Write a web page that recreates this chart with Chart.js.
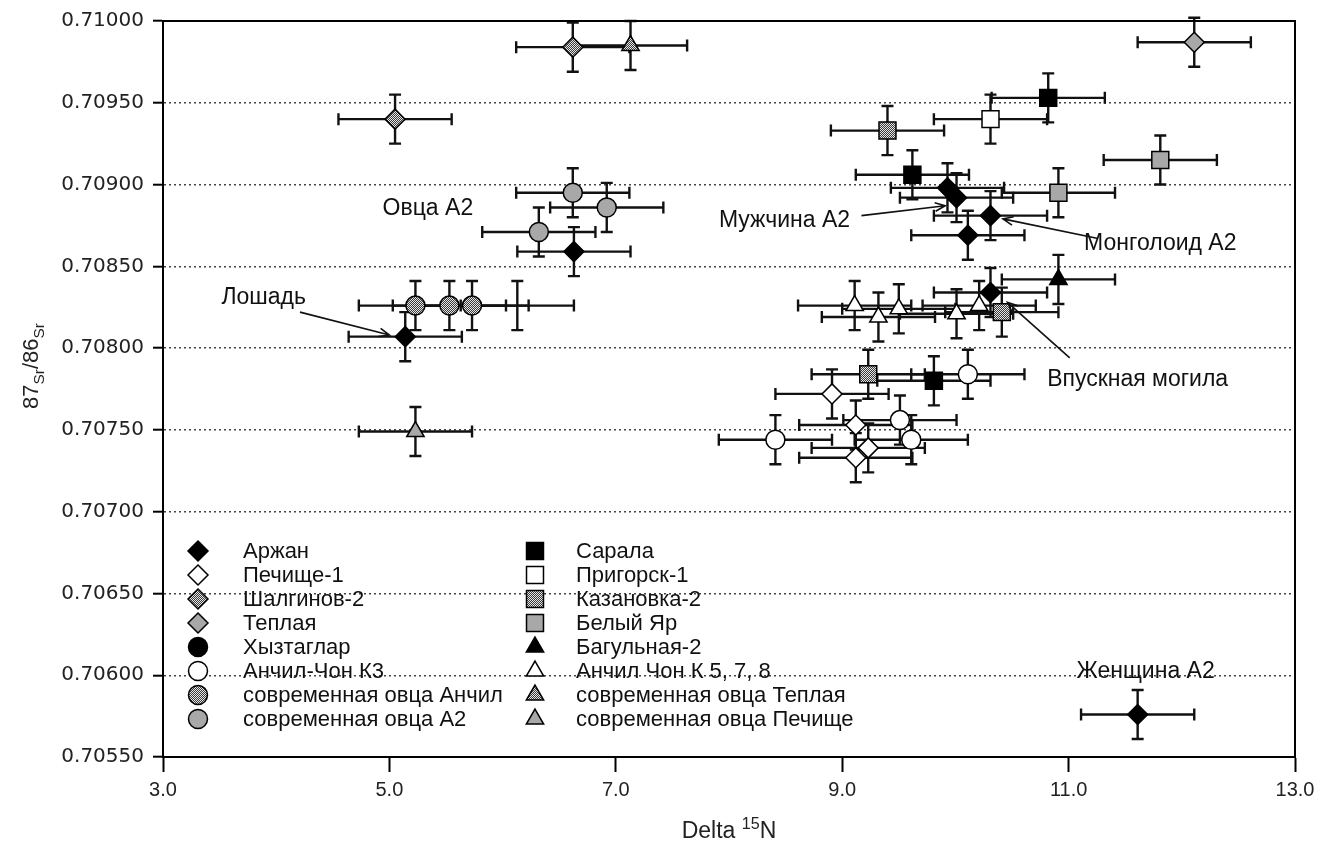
<!DOCTYPE html>
<html>
<head>
<meta charset="utf-8">
<script src="https://cdn.jsdelivr.net/npm/chart.js@4.4.1/dist/chart.umd.min.js"></script>
<style>
    html, body { margin: 0; padding: 0; background: #fff; }
    #wrap { width: 1334px; height: 844px; }
</style>
</head>
<body>
<div id="wrap"><canvas id="srChart" width="1334" height="844"></canvas></div>
<script>
    "use strict";

    // axis ticks
    var xTicks = [3.0, 5.0, 7.0, 9.0, 11.0, 13.0];
    var yTicks = [0.70550, 0.70600, 0.70650, 0.70700, 0.70750, 0.70800, 0.70850, 0.70900, 0.70950, 0.71000];

    // delta 15N / 87Sr/86Sr values, one pair of arrays per site
    var arzhanX = [5.14, 6.63, 9.93, 10.01, 10.31, 10.11, 10.31, 11.61];
    var arzhanY = [0.70807, 0.70859, 0.70898, 0.70892, 0.70881, 0.70869, 0.70834, 0.70576];
    var pechishcheX = [8.91, 9.12, 9.23, 9.12];
    var pechishcheY = [0.70772, 0.70753, 0.70739, 0.70733];
    var shalginovX = [5.05, 6.62];
    var shalginovY = [0.70940, 0.70984];
    var teplayaX = [12.11];
    var teplayaY = [0.70987];
    var khyztaglarX = [];
    var khyztaglarY = [];
    var anchilK3X = [10.11, 8.41, 9.51, 9.61];
    var anchilK3Y = [0.70784, 0.70744, 0.70756, 0.70744];
    var sheepAnchilX = [5.23, 5.53, 5.73];
    var sheepAnchilY = [0.70826, 0.70826, 0.70826];
    var sheepA2X = [6.62, 6.92, 6.32];
    var sheepA2Y = [0.70895, 0.70886, 0.70871];
    var saralaX = [10.82, 9.62, 9.81];
    var saralaY = [0.70953, 0.70906, 0.70780];
    var prigorskX = [10.31];
    var prigorskY = [0.70940];
    var kazanovkaX = [9.40, 9.23, 10.41];
    var kazanovkaY = [0.70933, 0.70784, 0.70822];
    var belyYarX = [10.91, 11.81];
    var belyYarY = [0.70895, 0.70915];
    var bagulnayaX = [10.91];
    var bagulnayaY = [0.70842];
    var anchilK578X = [9.11, 9.32, 9.50, 10.01, 10.21];
    var anchilK578Y = [0.70826, 0.70819, 0.70824, 0.70821, 0.70826];
    var sheepTeplayaX = [7.13];
    var sheepTeplayaY = [0.70985];
    var sheepPechishcheX = [5.23];
    var sheepPechishcheY = [0.70749];
    // error cross without a marker next to the Anchil sheep
    var unmarkedX = [6.13];
    var unmarkedY = [0.70826];

    // error bars
    var errX = 0.5;
    var errY = 0.00015;

    var seriesNames = ['Аржан', 'Печище-1', 'Шалгинов-2', 'Теплая', 'Хызтаглар', 'Анчил-Чон К3',
        'современная овца Анчил', 'современная овца А2', 'Сарала', 'Пригорск-1', 'Казановка-2',
        'Белый Яр', 'Багульная-2', 'Анчил Чон К 5, 7, 8', 'современная овца Теплая', 'современная овца Печище'];
    var seriesX = [arzhanX, pechishcheX, shalginovX, teplayaX, khyztaglarX, anchilK3X, sheepAnchilX, sheepA2X,
        saralaX, prigorskX, kazanovkaX, belyYarX, bagulnayaX, anchilK578X, sheepTeplayaX, sheepPechishcheX];
    var seriesY = [arzhanY, pechishcheY, shalginovY, teplayaY, khyztaglarY, anchilK3Y, sheepAnchilY, sheepA2Y,
        saralaY, prigorskY, kazanovkaY, belyYarY, bagulnayaY, anchilK578Y, sheepTeplayaY, sheepPechishcheY];

    // text labels on the plot (data coordinates), with optional arrow
    var noteTexts = ['Овца А2', 'Лошадь', 'Мужчина А2', 'Монголоид А2', 'Впускная могила', 'Женщина А2'];
    var noteX = [5.34, 3.89, 8.49, 11.81, 11.61, 11.68];
    var noteY = [0.70885, 0.70831, 0.70878, 0.70864, 0.70781, 0.70602];
    var arrowFrom = [null, [4.21, 0.70822], [9.17, 0.70881], [11.26, 0.70867], [11.01, 0.70794], null];
    var arrowTo = [null, [5.00, 0.70808], [9.91, 0.70887], [10.42, 0.70879], [10.46, 0.70828], null];

    // hatched fill like the old excel pattern
    function makeHatch() {
        var c = document.createElement('canvas');
        c.width = 4; c.height = 4;
        var g = c.getContext('2d');
        g.fillStyle = '#3a3a3a';
        g.fillRect(0, 0, 4, 4);
        g.fillStyle = '#e6e6e6';
        for (var i = 0; i < 4; i++) {
            for (var j = 0; j < 4; j++) {
                if ((i + j) % 2 === 0) g.fillRect(i, j, 1, 1);
            }
        }
        return g.createPattern(c, 'repeat');
    }

    var ctx = document.getElementById('srChart');
    var hatch = makeHatch();
    var shapeOrder = ['rectRot', 'circle', 'rect', 'triangle'];
    var fillOrder = ['#000000', '#ffffff', hatch, '#a8a8a8'];
    var shapeRadius = { rectRot: 10, circle: 9.5, rect: 12, triangle: 10 };

    function styleFor(i) {
        // legend order: 4 diamonds, 4 circles, 4 squares, 4 triangles
        var shape = shapeOrder[Math.floor(i / 4)];
        return { shape: shape, fill: fillOrder[i % 4], radius: shapeRadius[shape] };
    }

    var datasets = [];
    seriesNames.forEach(function(name, i) {
        var st = styleFor(i);
        var pts = [];
        for (var k = 0; k < seriesX[i].length; k++) {
            pts.push({ x: seriesX[i][k], y: seriesY[i][k] });
        }
        datasets.push({
            label: name,
            data: pts,
            pointStyle: st.shape,
            pointRadius: st.radius,
            backgroundColor: st.fill,
            borderColor: '#000',
            borderWidth: 1.5
        });
    });
    var extraPts = [];
    for (var u = 0; u < unmarkedX.length; u++) extraPts.push({ x: unmarkedX[u], y: unmarkedY[u] });
    datasets.unshift({ label: '', data: extraPts, pointRadius: 0, borderWidth: 0 });

    function drawMarker(c, shape, x, y, r) {
        c.beginPath();
        if (shape === 'rectRot') {
            c.moveTo(x, y - r); c.lineTo(x + r, y); c.lineTo(x, y + r); c.lineTo(x - r, y);
            c.closePath();
        } else if (shape === 'circle') {
            c.arc(x, y, r, 0, Math.PI * 2);
        } else if (shape === 'rect') {
            var s = r * Math.SQRT1_2;
            c.rect(x - s, y - s, 2 * s, 2 * s);
        } else {
            c.moveTo(x, y - r);
            c.lineTo(x + r * 0.866, y + r * 0.5);
            c.lineTo(x - r * 0.866, y + r * 0.5);
            c.closePath();
        }
        c.fill();
        c.stroke();
    }

    var errorBars = {
        id: 'errorBars',
        beforeDatasetsDraw: function(chart) {
            var c = chart.ctx, xs = chart.scales.x, ys = chart.scales.y, cap = 6;
            c.save();
            c.strokeStyle = '#111';
            c.lineWidth = 2.4;
            chart.data.datasets.forEach(function(ds) {
                ds.data.forEach(function(p) {
                    var cx = xs.getPixelForValue(p.x), cy = ys.getPixelForValue(p.y);
                    var x0 = xs.getPixelForValue(p.x - errX), x1 = xs.getPixelForValue(p.x + errX);
                    var y0 = ys.getPixelForValue(p.y + errY), y1 = ys.getPixelForValue(p.y - errY);
                    c.beginPath();
                    c.moveTo(x0, cy); c.lineTo(x1, cy);
                    c.moveTo(cx, y0); c.lineTo(cx, y1);
                    c.moveTo(x0, cy - cap); c.lineTo(x0, cy + cap);
                    c.moveTo(x1, cy - cap); c.lineTo(x1, cy + cap);
                    c.moveTo(cx - cap, y0); c.lineTo(cx + cap, y0);
                    c.moveTo(cx - cap, y1); c.lineTo(cx + cap, y1);
                    c.stroke();
                });
            });
            c.restore();
        }
    };

    // top and right edge of the frame
    var frame = {
        id: 'frame',
        afterDraw: function(chart) {
            var a = chart.chartArea, c = chart.ctx;
            c.save();
            c.strokeStyle = '#000';
            c.lineWidth = 2;
            c.beginPath();
            c.moveTo(a.left, a.top); c.lineTo(a.right, a.top); c.lineTo(a.right, a.bottom);
            c.stroke();
            c.restore();
        }
    };

    var notes = {
        id: 'notes',
        afterDatasetsDraw: function(chart) {
            var c = chart.ctx, xs = chart.scales.x, ys = chart.scales.y;
            c.save();
            c.font = '23px "Liberation Sans", Arial, sans-serif';
            c.fillStyle = '#111';
            c.textAlign = 'center';
            c.textBaseline = 'middle';
            noteTexts.forEach(function(t, i) {
                c.fillText(t, xs.getPixelForValue(noteX[i]), ys.getPixelForValue(noteY[i]));
                if (!arrowFrom[i]) return;
                var ax = xs.getPixelForValue(arrowFrom[i][0]), ay = ys.getPixelForValue(arrowFrom[i][1]);
                var bx = xs.getPixelForValue(arrowTo[i][0]), by = ys.getPixelForValue(arrowTo[i][1]);
                var ang = Math.atan2(by - ay, bx - ax), h = 11;
                c.strokeStyle = '#111';
                c.lineWidth = 1.6;
                c.beginPath();
                c.moveTo(ax, ay); c.lineTo(bx, by);
                c.moveTo(bx - h * Math.cos(ang - 0.4), by - h * Math.sin(ang - 0.4));
                c.lineTo(bx, by);
                c.lineTo(bx - h * Math.cos(ang + 0.4), by - h * Math.sin(ang + 0.4));
                c.stroke();
            });
            c.restore();
        }
    };

    // two column legend inside the plot
    var legendBox = {
        id: 'legendBox',
        afterDraw: function(chart) {
            var c = chart.ctx;
            var markerX = [198, 535], textX = [243, 576], top = 551, step = 24;
            c.save();
            c.font = '22px "Liberation Sans", Arial, sans-serif';
            c.textBaseline = 'middle';
            c.textAlign = 'left';
            c.strokeStyle = '#000';
            c.lineWidth = 1.5;
            seriesNames.forEach(function(name, i) {
                var col = Math.floor(i / 8), row = i % 8, st = styleFor(i);
                var y = top + row * step;
                c.fillStyle = st.fill;
                drawMarker(c, st.shape, markerX[col], y, st.radius);
                c.fillStyle = '#111';
                c.fillText(name, textX[col], y + 1);
            });
            c.restore();
        }
    };

    function drawParts(c, parts, x, y, size, shift) {
        var w = 0;
        parts.forEach(function(p) {
            c.font = (p.small ? size * 0.7 : size) + 'px "Liberation Sans", Arial';
            p.w = c.measureText(p.t).width;
            w += p.w;
        });
        var px = x - w / 2;
        parts.forEach(function(p) {
            c.font = (p.small ? size * 0.7 : size) + 'px "Liberation Sans", Arial';
            c.fillText(p.t, px, y + (p.off || 0) * shift);
            px += p.w;
        });
    }

    var axisTitles = {
        id: 'axisTitles',
        afterDraw: function(chart) {
            var c = chart.ctx, a = chart.chartArea;
            c.save();
            c.fillStyle = '#222';
            c.textAlign = 'left';
            c.textBaseline = 'alphabetic';
            drawParts(c, [{ t: 'Delta ' }, { t: '15', small: true, off: -1 }, { t: 'N' }],
                (a.left + a.right) / 2, 838, 23, 9);
            c.translate(38, 366);
            c.rotate(-Math.PI / 2);
            drawParts(c, [{ t: '87' }, { t: 'Sr', small: true, off: 1 }, { t: '/' }, { t: '86' }, { t: 'Sr', small: true, off: 1 }],
                0, 0, 22, 6);
            c.restore();
        }
    };

    new Chart(ctx, {
        type: 'scatter',
        data: { datasets: datasets },
        options: {
            responsive: false,
            animation: false,
            devicePixelRatio: 1,
            layout: { padding: { left: 0, right: 39, top: 18, bottom: 0 } },
            plugins: { legend: { display: false }, tooltip: { enabled: false } },
            scales: {
                x: {
                    type: 'linear',
                    min: xTicks[0],
                    max: xTicks[xTicks.length - 1],
                    afterBuildTicks: function(s) { s.ticks = xTicks.map(function(v) { return { value: v }; }); },
                    afterFit: function(s) { s.height = 87; },
                    ticks: {
                        callback: function(v) { return Number(v).toFixed(1); },
                        font: { family: '"Liberation Sans", Arial', size: 20 },
                        color: '#222',
                        padding: 6,
                        maxRotation: 0
                    },
                    grid: { drawOnChartArea: false, drawTicks: true, tickLength: 15, tickWidth: 2, tickColor: '#000' },
                    border: { display: true, color: '#000', width: 2 }
                },
                y: {
                    type: 'linear',
                    min: yTicks[0],
                    max: yTicks[yTicks.length - 1],
                    afterBuildTicks: function(s) { s.ticks = yTicks.map(function(v) { return { value: v }; }); },
                    afterFit: function(s) { s.width = 163; },
                    ticks: {
                        callback: function(v) { return Number(v).toFixed(5); },
                        font: { family: '"DejaVu Sans", Verdana, sans-serif', size: 20 },
                        color: '#222',
                        padding: 9
                    },
                    grid: { color: '#444', lineWidth: 1.4, tickLength: 10, tickWidth: 2, tickColor: '#000', tickBorderDash: [] },
                    border: { display: true, color: '#000', width: 2, dash: [2, 3] }
                }
            }
        },
        plugins: [errorBars, notes, frame, legendBox, axisTitles]
    });
</script>
</body>
</html>
